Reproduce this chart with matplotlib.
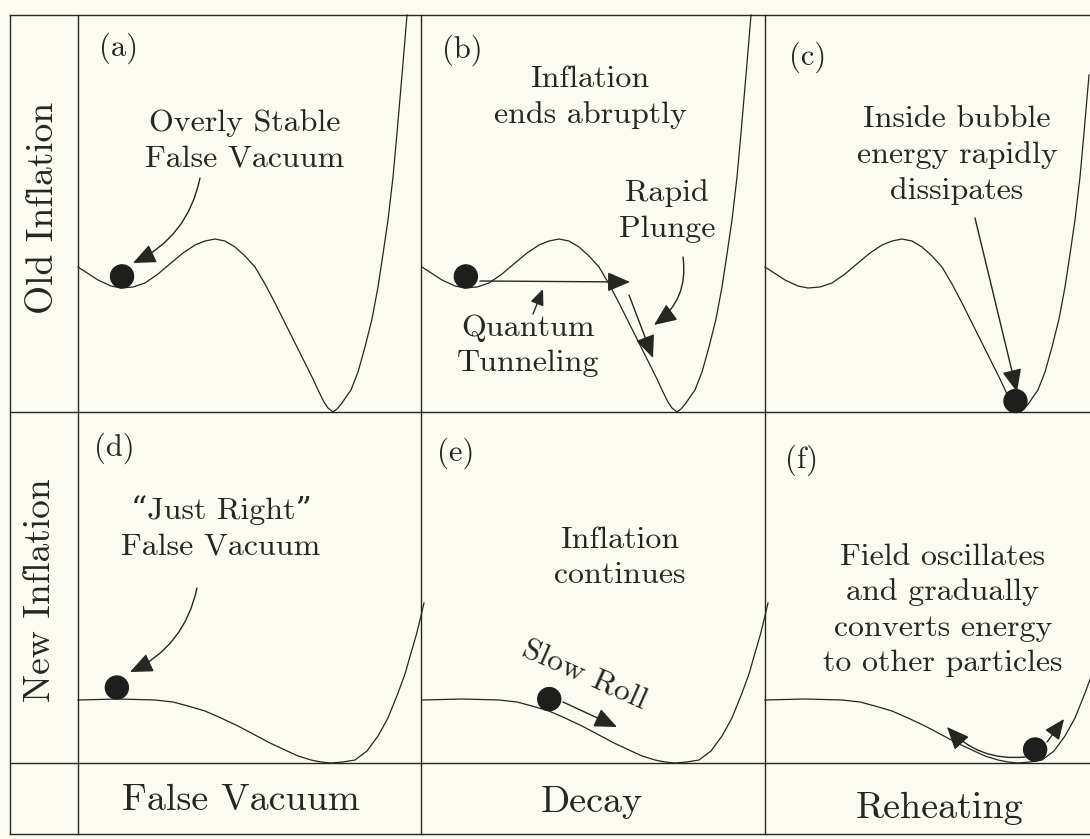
import numpy as np
import matplotlib.pyplot as plt
from matplotlib.patches import Circle

# potential curves: field offset (px) and height above the row floor (px)
old_phi = [0, 20, 33, 43, 55, 67, 80, 93, 105, 117, 127, 137, 147, 157, 167, 177, 187, 197,
           207, 217, 227, 235, 241, 246, 250, 255, 259, 264, 268, 273, 280, 287, 294, 300,
           305, 310, 315, 319, 324, 329]
old_V = [145, 132, 126, 124, 125, 129, 138, 149, 159, 167, 171, 173, 171, 165, 156, 145, 128, 109,
         89, 69, 49, 33, 20, 10, 4, 0, 3, 9, 15, 22, 40, 65, 93, 125,
         158, 192, 235, 279, 337, 397]

new_phi = [0, 40, 77, 95, 110, 127, 143, 160, 177, 192, 207, 220, 233, 243, 253, 265, 277, 289,
           300, 310, 320, 327, 333, 338, 342, 346]
new_V = [63, 64, 63, 61, 57, 52, 45, 37, 28, 20, 13, 7, 3, 1, 0, 1, 3, 12,
         27, 45, 70, 89, 110, 127, 143, 160]

panel_tags = ['(a)', '(b)', '(c)', '(d)', '(e)', '(f)']
row_labels = ['Old Inflation', 'New Inflation']
col_labels = ['False Vacuum', 'Decay', 'Reheating']
ball_phi = [45, 44, 258, 39, 124, 272]

ink = '#262622'
bg = '#fbfbf1'
serif = ['cmr10', 'DejaVu Serif']

col_left = [78, 422, 765]
row_base = [412, 763]

fig = plt.figure(figsize=(10.9, 8.39), dpi=100)
fig.patch.set_facecolor(bg)
ax = fig.add_axes([0, 0, 1, 1])
ax.set_facecolor(bg)
ax.set_xlim(0, 1090)
ax.set_ylim(839, 0)
ax.axis('off')

# frame lines
for y in [15, 412, 763, 834]:
    ax.plot([10, 1090], [y, y], color=ink, lw=1.0)
for x in [10, 78, 421, 765]:
    ax.plot([x, x], [15, 834], color=ink, lw=1.0)


def curve_xy(i):
    r, c = divmod(i, 3)
    if r == 0:
        phi, V = np.array(old_phi, float), np.array(old_V, float)
    else:
        phi, V = np.array(new_phi, float), np.array(new_V, float)
    return col_left[c] + phi, row_base[r] - V


def put_ball(i, p, rad=11.5):
    x, y = curve_xy(i)
    x0 = x[0] + p
    yc = np.interp(x0, x, y)
    s = (np.interp(x0 + 2, x, y) - np.interp(x0 - 2, x, y)) / 4
    n = np.array([s, -1.0]) / np.hypot(s, 1.0)
    ax.add_patch(Circle((x0 + rad * n[0], yc + rad * n[1]), rad, color='#1e1e1c', zorder=5))


def arrow(start, end, rad=0.0, ms=20):
    ax.annotate('', xy=end, xytext=start,
                arrowprops=dict(arrowstyle='-|>,head_length=0.7,head_width=0.3', mutation_scale=ms,
                                lw=1.0, color=ink, shrinkA=0, shrinkB=0,
                                connectionstyle='arc3,rad=%s' % rad))


def label(x, y, s, size=23, **kw):
    ax.text(x, y, s, ha='center', va='center', fontsize=size, family=serif, color=ink,
            linespacing=1.36, **kw)


for i in range(6):
    x, y = curve_xy(i)
    keep = x <= 1092
    ax.plot(x[keep], y[keep], color=ink, lw=0.9, solid_joinstyle='round')
    put_ball(i, ball_phi[i])

# panel tags
tag_pos = [(119, 48), (462, 50), (808, 57), (114, 448), (456, 453), (802, 460)]
for (tx, ty), t in zip(tag_pos, panel_tags):
    label(tx, ty, t, size=22)

# row and column captions
label(43, 208, row_labels[0], size=27, rotation=90)
label(40, 590, row_labels[1], size=27, rotation=90)
label(241, 800, col_labels[0], size=27.5)
label(592, 802, col_labels[1], size=27.5)
label(940, 808, col_labels[2], size=27.5)

# (a)
label(245, 141, 'Overly Stable\nFalse Vacuum')
arrow((200, 178), (133, 263), rad=-0.25)

# (b)
label(590, 97, 'Inflation\nends abruptly')
label(528, 346, 'Quantum\nTunneling')
label(667, 211, 'Rapid\nPlunge')
arrow((480, 281), (630, 282))
arrow((533, 314), (543, 289), ms=14)
arrow((683, 257), (654, 325), rad=-0.3)
arrow((629, 295), (653, 358))

# (c)
label(957, 155, 'Inside bubble\nenergy rapidly\ndissipates')
arrow((975, 218), (1017, 392))

# (d)
label(221, 528, '\u201cJust Right\u201d\nFalse Vacuum')
arrow((197, 588), (130, 672), rad=-0.25)

# (e)
label(620, 558, 'Inflation\ncontinues')
label(584, 676, 'Slow Roll', rotation=-24)
arrow((563, 702), (617, 727))

# (f)
label(943, 610, 'Field oscillates\nand gradually\nconverts energy\nto other particles')
arrow((1025, 757), (947, 727), rad=-0.25)
arrow((1047, 742), (1064, 719), ms=18)

fig.savefig('out.png', dpi=100, facecolor=bg)
